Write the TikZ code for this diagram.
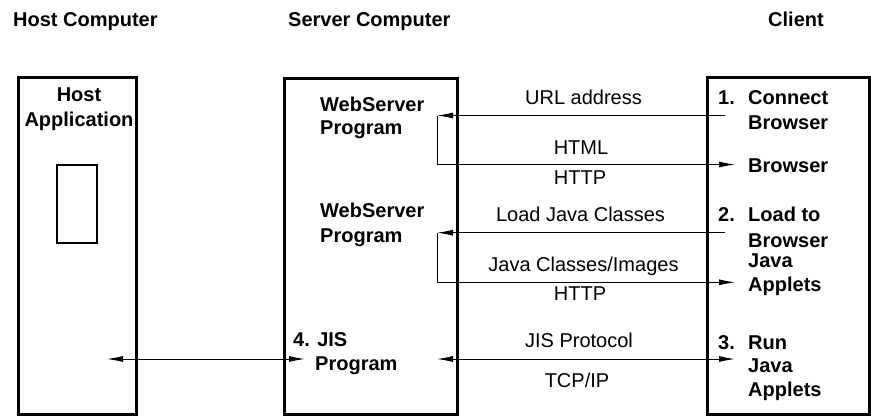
\documentclass[tikz,border=0pt]{standalone}
\usepackage{fontspec}
\setmainfont{Liberation Sans}
\usetikzlibrary{arrows.meta,positioning}

\begin{document}
\begin{tikzpicture}[
    x=1pt, y=-1pt,
    every node/.style={inner sep=0pt, font=\fontsize{20}{25}\selectfont},
    heading/.style={anchor=base west, font=\bfseries\fontsize{20}{25}\selectfont},
    tag/.style={anchor=base west, align=left, font=\bfseries\fontsize{20}{25}\selectfont},
    machine/.style={draw, line width=3pt},
    caption/.style={anchor=base},
    wire/.style={draw, line width=1pt},
    sendarrow/.style={-{Latex[length=16pt,width=6pt]}},
    duplex/.style={{Latex[length=16pt,width=6pt]}-{Latex[length=16pt,width=6pt]}}
]
\useasboundingbox (0,0) rectangle (871,416);

\node[heading] (hosthead) at (13,26) {Host Computer};
\node[heading] (serverhead) at (288,26) {Server Computer};
\node[heading] (clienthead) at (768,26) {Client};

\node[machine, minimum width=118pt, minimum height=337pt] (host) at (77,245.5) {};
\node[machine, minimum width=173pt, minimum height=336pt] (server) at (370.5,246) {};
\node[machine, minimum width=162pt, minimum height=337pt] (client) at (788,245.5) {};
\node[machine, line width=2.5pt, minimum width=40pt, minimum height=78pt] (window) at (77,204) {};

\node[tag, anchor=base] (hostapp) at (79,101) {Host};
\node[tag, anchor=base] (hostapp2) at (79,126) {Application};

\node[tag] (web1) at (320,111) {WebServer};
\node[tag] (prog1) at (320,134) {Program};
\node[tag] (web2) at (320,217) {WebServer};
\node[tag] (prog2) at (320,242) {Program};
\node[tag] (jis) at (293,346) {4. JIS};
\node[tag] (prog3) at (315,370) {Program};

\node[tag] (n1) at (718,104) {1.};
\node[tag] (connect) at (748,104) {Connect};
\node[tag] (browser1) at (748,129) {Browser};
\node[tag] (browser2) at (748,172) {Browser};
\node[tag] (n2) at (718,221) {2.};
\node[tag] (loadto) at (748,221) {Load to};
\node[tag] (browser3) at (748,247) {Browser};
\node[tag] (java1) at (748,267) {Java};
\node[tag] (applets1) at (748,291) {Applets};
\node[tag] (n3) at (718,349) {3.};
\node[tag] (run) at (748,349) {Run};
\node[tag] (java2) at (748,372) {Java};
\node[tag] (applets2) at (748,396) {Applets};

\node[caption] (url) at (583.5,104) {URL address};
\node[caption] (html) at (581,154) {HTML};
\node[caption] (http1) at (580,184) {HTTP};
\node[caption] (load) at (580.5,221) {Load Java Classes};
\node[caption] (classes) at (583.5,271) {Java Classes/Images};
\node[caption] (http2) at (580,300) {HTTP};
\node[caption] (protocol) at (579,347) {JIS Protocol};
\node[caption] (tcpip) at (577,387) {TCP/IP};

\coordinate (urlR) at (725,115.5);
\coordinate (urlL) at (437,115.5);
\coordinate (htmlL) at (437,164.5);
\coordinate (htmlR) at (735,164.5);
\coordinate (loadR) at (725,232.7);
\coordinate (loadL) at (437,232.7);
\coordinate (javaL) at (437,282.3);
\coordinate (javaR) at (735,282.3);
\coordinate (jisL) at (437,359);
\coordinate (jisR) at (735,359);
\coordinate (hostL) at (107,359);
\coordinate (hostR) at (305,359);

\draw[wire, sendarrow] (urlR) -- (urlL);
\draw[wire, sendarrow] (urlL) -- (htmlL) -- (htmlR);
\draw[wire, sendarrow] (loadR) -- (loadL);
\draw[wire, sendarrow] (loadL) -- (javaL) -- (javaR);
\draw[wire, duplex] (jisL) -- (jisR);
\draw[wire, duplex] (hostL) -- (hostR);
\end{tikzpicture}
\end{document}
